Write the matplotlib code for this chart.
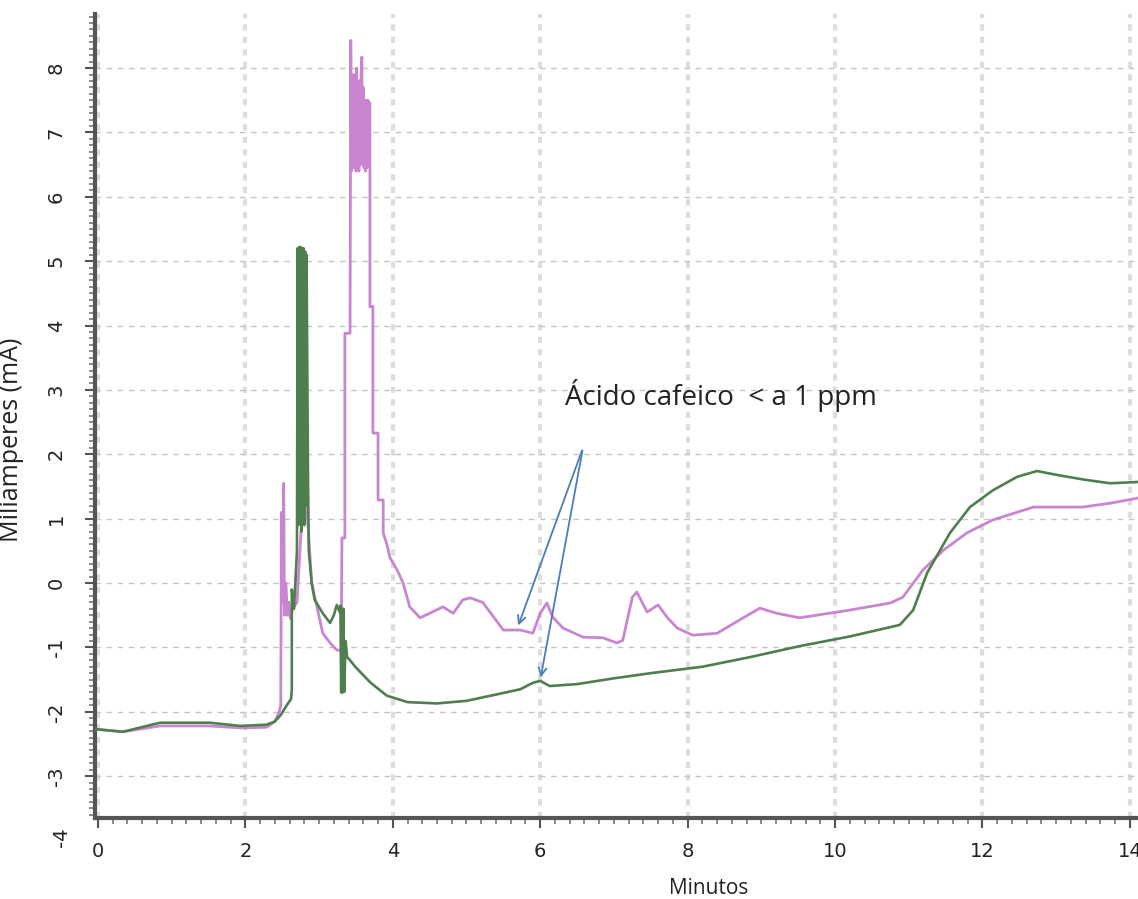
import matplotlib
matplotlib.use("Agg")
import matplotlib.pyplot as plt
from matplotlib.ticker import MultipleLocator
from matplotlib.transforms import blended_transform_factory

plt.rcParams["axes.unicode_minus"] = False

# ---- data (minutes, mA) ----
green_t = [-0.04, 0.34, 0.84, 1.52, 1.93, 2.29, 2.40, 2.48, 2.56, 2.62, 2.63, 2.63,
           2.66, 2.70, 2.71, 2.72, 2.73, 2.74, 2.75, 2.76, 2.77, 2.78, 2.79, 2.80,
           2.81, 2.82, 2.83, 2.85, 2.86, 2.90,
           2.94, 3.05, 3.15, 3.20, 3.24, 3.28, 3.29, 3.30, 3.31, 3.32, 3.33, 3.34, 3.36, 3.38,
           3.42, 3.49, 3.70, 3.92, 4.20, 4.60, 5.00, 5.45, 5.73, 5.90, 6.00, 6.13,
           6.50, 7.00, 7.50, 8.20, 8.85, 9.52, 10.20, 10.88, 11.06, 11.25, 11.56,
           11.83, 12.14, 12.47, 12.74, 13.01, 13.36, 13.73, 14.11]
green_v = [-2.27, -2.31, -2.17, -2.17, -2.22, -2.20, -2.15, -2.05, -1.90, -1.80, -1.66, -0.10,
           -0.40, 0.50, 5.20, 0.90, 5.22, 1.00, 5.22, 0.80, 5.20, 1.00, 5.20, 0.90,
           5.15, 1.20, 5.10, 1.60, 0.50, 0.00,
           -0.26, -0.47, -0.62, -0.50, -0.34, -0.45, -0.35, -1.70, -0.40, -1.70, -0.40, -1.69, -0.90, -1.15,
           -1.20, -1.30, -1.55, -1.75, -1.85, -1.87, -1.83, -1.72, -1.65, -1.55, -1.52, -1.60,
           -1.57, -1.48, -1.40, -1.30, -1.15, -0.98, -0.83, -0.65, -0.42, 0.16, 0.78,
           1.18, 1.44, 1.65, 1.74, 1.68, 1.61, 1.55, 1.57]

pink_t = [-0.04, 0.34, 0.84, 1.52, 1.93, 2.29, 2.40, 2.46, 2.48, 2.49, 2.50, 2.52,
          2.53, 2.55, 2.57, 2.59, 2.61, 2.64, 2.70, 2.78, 2.80, 2.82, 2.85, 2.90,
          3.05, 3.15, 3.24, 3.30, 3.31, 3.35, 3.35, 3.42, 3.43, 3.44, 3.45, 3.46, 3.47, 3.48,
          3.49, 3.50, 3.51, 3.52, 3.53, 3.54, 3.55, 3.56, 3.57, 3.58, 3.59, 3.60, 3.61,
          3.62, 3.63, 3.64, 3.65, 3.66, 3.69, 3.69, 3.73,
          3.73, 3.80, 3.80, 3.87, 3.87, 3.92, 3.96, 4.06, 4.14, 4.23, 4.37, 4.50,
          4.68, 4.82, 4.95, 5.05, 5.22, 5.50, 5.73, 5.90, 6.00, 6.09, 6.17, 6.31,
          6.58, 6.85, 7.04, 7.12, 7.25, 7.31, 7.45, 7.60, 7.72, 7.86, 8.07, 8.40,
          8.71, 8.98, 9.21, 9.52, 10.20, 10.75, 10.92, 11.19, 11.47, 11.79, 12.14,
          12.47, 12.69, 13.36, 13.73, 14.11]
pink_v = [-2.27, -2.31, -2.22, -2.22, -2.25, -2.24, -2.15, -2.00, -1.90, 1.10, -0.30, 1.55,
          -0.50, 0.00, -0.50, -0.30, -0.55, -0.40, -0.30, 1.30, 1.63, 1.30, 0.90, 0.00,
          -0.78, -0.93, -1.04, -1.05, 0.70, 0.70, 3.88, 3.88, 8.43, 6.40, 7.90, 6.45, 7.85, 6.50,
          7.90, 6.40, 8.00, 6.45, 7.80, 6.40, 7.80, 6.50, 7.90, 8.17, 6.50, 7.70, 6.45,
          7.50, 6.40, 7.50, 6.45, 7.50, 7.45, 4.29, 4.30,
          2.33, 2.33, 1.29, 1.29, 0.78, 0.60, 0.40, 0.20, 0.00, -0.37, -0.54, -0.47,
          -0.37, -0.47, -0.26, -0.23, -0.30, -0.73, -0.73, -0.78, -0.47, -0.31, -0.53, -0.70,
          -0.84, -0.85, -0.93, -0.89, -0.22, -0.14, -0.45, -0.34, -0.53, -0.70, -0.81, -0.78,
          -0.57, -0.39, -0.47, -0.54, -0.42, -0.31, -0.22, 0.20, 0.51, 0.78, 0.98,
          1.10, 1.18, 1.18, 1.24, 1.32]

x_ticks = [0, 2, 4, 6, 8, 10, 12, 14]
y_ticks = [-3, -2, -1, 0, 1, 2, 3, 4, 5, 6, 7, 8]

annot_text = "Ácido cafeico  < a 1 ppm"
annot_xy = (6.34, 2.92)
arrow_start = (6.58, 2.10)
arrow_ends = [(5.69, -0.70), (6.00, -1.51)]

# ---- figure ----
fig = plt.figure(figsize=(11.38, 8.99), dpi=100)
ax = fig.add_axes([95 / 1138, 1 - 818 / 899, 1 - 95 / 1138, (818 - 14) / 899])
ax.set_xlim(-0.04, 14.11)
ax.set_ylim(-3.65, 8.84)

ax.plot(pink_t, pink_v, color="#c985d0", lw=2.0, zorder=3)
ax.plot(green_t, green_v, color="#4f7f4f", lw=1.9, zorder=4)

ax.set_xticks(x_ticks)
ax.set_yticks(y_ticks)
ax.xaxis.set_minor_locator(MultipleLocator(0.2))
ax.yaxis.set_minor_locator(MultipleLocator(0.1))
ax.tick_params(axis="both", which="major", direction="out", length=7, width=1.5,
               color="#555555", labelsize=14, labelcolor="#222222")
ax.tick_params(axis="both", which="minor", direction="out", length=4, width=1.2,
               color="#777777")
ax.tick_params(axis="y", labelrotation=90, pad=14)
ax.tick_params(axis="x", pad=10)
for lab in ax.get_yticklabels():
    lab.set_verticalalignment("center")

trans = blended_transform_factory(ax.transAxes, ax.transData)
ax.text(-0.032, -3.95, "-4", transform=trans, rotation=90, fontsize=14, color="#222222",
        ha="center", va="center", clip_on=False)

for s in ["top", "right"]:
    ax.spines[s].set_visible(False)
for s in ["left", "bottom"]:
    ax.spines[s].set_color("#555555")
    ax.spines[s].set_linewidth(3)

ax.grid(axis="y", color="#c4c4c4", linestyle=(0, (4, 4)), linewidth=1.0, zorder=1)
ax.grid(axis="x", color="#dddddd", linestyle=(0, (1.5, 1.5)), linewidth=3.0, zorder=1)

ax.set_xlabel("Minutos", fontsize=15, family="Open Sans", color="#222222")
ax.xaxis.set_label_coords(0.588, -0.075)
ax.set_ylabel("Miliamperes (mA)", fontsize=18, family="Open Sans", color="#222222")
ax.yaxis.set_label_coords(-0.068, 0.47)

ax.text(annot_xy[0], annot_xy[1], annot_text, fontsize=20, family="Open Sans",
        color="#222222", ha="left", va="center", zorder=6)
for end in arrow_ends:
    ax.annotate("", xy=end, xytext=arrow_start,
                arrowprops=dict(arrowstyle="->", color="#4a7ebb", lw=1.3,
                                mutation_scale=14), zorder=6)

fig.savefig("out.png", dpi=100)
